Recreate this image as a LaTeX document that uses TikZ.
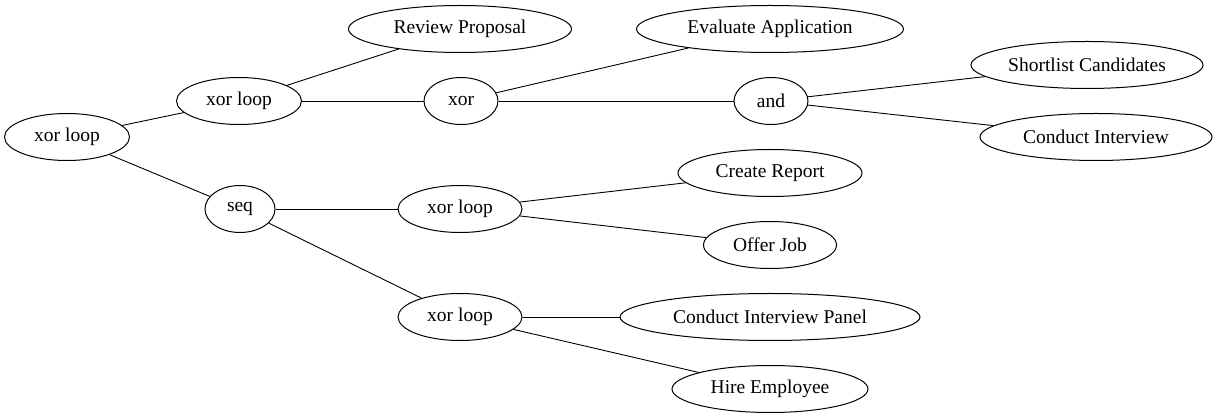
\documentclass[tikz,border=0pt]{standalone}
\usepackage{fontspec}
\setmainfont{Liberation Serif}
\usetikzlibrary{shapes.geometric}
\tikzstyle{op} = [draw, ellipse, inner sep=0pt, minimum height=47pt, line width=1pt, font=\fontsize{19.5}{23}\selectfont]
\tikzstyle{edge} = [line width=0.9pt]

\begin{document}
\begin{tikzpicture}[x=1pt, y=-1pt]
        \useasboundingbox (0,0) rectangle (1229,419);

        \node [op, minimum width=125pt] (root) at (67,137) {xor loop};
        \node [op, minimum width=125pt] (xloopa) at (239,101) {xor loop};
        \node [op, minimum width=70pt] (seq) at (240,209) {seq};
        \node [op, minimum width=223pt] (review) at (460,29) {Review Proposal};
        \node [op, minimum width=74pt] (xor) at (461,101) {xor};
        \node [op, minimum width=124pt] (xloopb) at (460,209) {xor loop};
        \node [op, minimum width=124pt] (xloopc) at (460,317) {xor loop};
        \node [op, minimum width=267pt] (evaluate) at (770,29) {Evaluate Application};
        \node [op, minimum width=74pt] (and) at (771,101) {and};
        \node [op, minimum width=184pt] (report) at (770,173) {Create Report};
        \node [op, minimum width=133pt] (offer) at (770,245) {Offer Job};
        \node [op, minimum width=300pt] (panel) at (770,317) {Conduct Interview Panel};
        \node [op, minimum width=196pt] (hire) at (770,389) {Hire Employee};
        \node [op, minimum width=232pt] (shortlist) at (1087,65) {Shortlist Candidates};
        \node [op, minimum width=232pt] (interview) at (1096,137) {Conduct Interview};

        \draw [edge] (root) -- (xloopa);
        \draw [edge] (root) -- (seq);
        \draw [edge] (xloopa) -- (review);
        \draw [edge] (xloopa) -- (xor);
        \draw [edge] (xor) -- (evaluate);
        \draw [edge] (xor) -- (and);
        \draw [edge] (and) -- (shortlist);
        \draw [edge] (and) -- (interview);
        \draw [edge] (seq) -- (xloopb);
        \draw [edge] (seq) -- (xloopc);
        \draw [edge] (xloopb) -- (report);
        \draw [edge] (xloopb) -- (offer);
        \draw [edge] (xloopc) -- (panel);
        \draw [edge] (xloopc) -- (hire);
    \end{tikzpicture}
\end{document}
